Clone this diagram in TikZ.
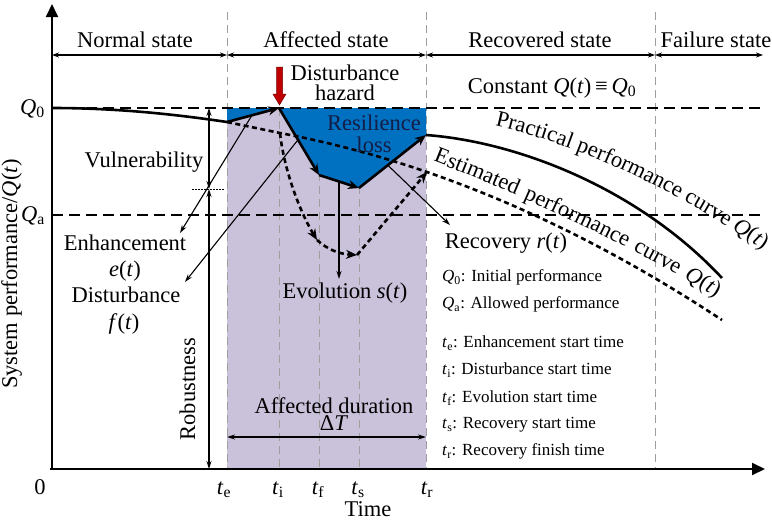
\documentclass[tikz,border=0pt]{standalone}
\usepackage{fontspec}
\setmainfont{Liberation Serif}
\usetikzlibrary{arrows.meta,decorations.text,calc}
\definecolor{purp}{RGB}{202,193,218}
\definecolor{lossblue}{RGB}{0,112,192}
\definecolor{hazred}{RGB}{192,0,0}
\definecolor{navytxt}{RGB}{20,30,70}
\newcommand\bigfnt{\fontsize{22.5}{22.5}\selectfont}
\newcommand\smfnt{\fontsize{17}{17}\selectfont}
\begin{document}
\begin{tikzpicture}[x=1pt,y=-1pt,
  txt/.style={inner sep=0pt, font=\bigfnt, anchor=base},
  leg/.style={inner sep=0pt, anchor=base west, font=\smfnt},
  axisline/.style={line width=2pt, -{Triangle[length=13pt,width=12pt]}},
  hdr/.style={line width=1.1pt, {Stealth[length=7pt,width=5pt]}-{Stealth[length=7pt,width=5pt]}},
  ann/.style={line width=1.1pt, -{Stealth[length=8pt,width=5pt]}},
  annboth/.style={line width=1.1pt, {Stealth[length=8pt,width=5pt]}-{Stealth[length=8pt,width=5pt]}},
  prac/.style={line width=2.6pt},
  pracarr/.style={prac, -{Stealth[length=11pt,width=9pt]}},
  est/.style={line width=2.6pt, dash pattern=on 5pt off 3.5pt},
  estarr/.style={est, -{Stealth[length=11pt,width=9pt]}},
  gdash/.style={black!38, line width=1pt, dash pattern=on 8pt off 5pt},
  kdash/.style={black, line width=1.3pt, dash pattern=on 11pt off 6pt},
]
\useasboundingbox (0,0) rectangle (772,520);

% key coordinates
\coordinate (O) at (52,469);
\coordinate (Ytip) at (52,4);
\coordinate (Xtip) at (765,469);
\coordinate (P0) at (52,108);
\coordinate (Pe) at (227,122);
\coordinate (Pi) at (279,108);
\coordinate (Pf) at (319,175);
\coordinate (Ps) at (359,188);
\coordinate (Pr) at (426,135);
\coordinate (Pend) at (722,278);
\coordinate (Ea) at (280,133);
\coordinate (Ef) at (317,240);
\coordinate (Es) at (357,255);
\coordinate (Er) at (427,172);
\coordinate (Eend) at (722,320);

% affected region
\fill[purp] (227,108) rectangle (426,469);

% gray vertical dashed lines
\draw[gdash] (227,12) -- (227,469);
\draw[gdash] (426,12) -- (426,469);
\draw[gdash] (655,12) -- (655,469);
\draw[gdash] (279,108) -- (279,469);
\draw[gdash] (319,108) -- (319,469);
\draw[gdash] (359,108) -- (359,469);

% resilience loss
\fill[lossblue] (227,108) -- (Pe) -- (Pi) -- (Pf) -- (Ps) -- (Pr) -- (426,108) -- cycle;

% Q0 and Qa lines
\draw[kdash] (P0) -- (762,108);
\draw[kdash] (52,215) -- (760,215);

% axes
\draw[axisline] (O) -- (Ytip);
\draw[axisline] (50,469) -- (Xtip);

% header arrows
\coordinate (H0) at (52,55);
\coordinate (H1) at (227,55);
\coordinate (H2) at (426,55);
\coordinate (H3) at (655,55);
\coordinate (H4) at (763,55);
\draw[hdr] (H0) -- (H1);
\draw[hdr] (H1) -- (H2);
\draw[hdr] (H2) -- (H3);
\draw[hdr] (H3) -- (H4);
\node[txt] (nNormal) at (135,47) {Normal state};
\node[txt] (nAff) at (326,47) {Affected state};
\node[txt] (nRec) at (540,47) {Recovered state};
\node[txt] (nFail) at (716,47) {Failure state};

% estimated performance curve
\draw[est] (Pe) -- (Ea) .. controls (427,160.5) and (575,223) .. (Eend);
\draw[estarr] (Ea) .. controls (284,170) and (300,212) .. (Ef);
\draw[estarr] (Ef) .. controls (328,250) and (340,254) .. (Es);
\draw[estarr] (Es) -- (Er);

% practical performance curve
\draw[prac] (P0) .. controls (120,108) and (180,115) .. (Pe);
\draw[pracarr] (Pe) -- (Pi);
\draw[pracarr] (Pi) -- (Pf);
\draw[pracarr] (Pf) -- (Ps);
\draw[pracarr] (Ps) -- (Pr);
\draw[prac] (Pr) .. controls (520,142) and (640,190) .. (Pend);

% disturbance hazard arrow
\fill[hazred, draw=black!40!hazred, line width=0.5pt]
  (276.5,67) -- (282.5,67) -- (282.5,94) -- (286,94) -- (279.5,105) -- (273,94) -- (276.5,94) -- cycle;
\node[txt] (nDist1) at (345,80) {Disturbance};
\node[txt] (nDist2) at (345,100) {hazard};

% resilience loss text
\node[txt, text=navytxt] (nRes1) at (374,130) {Resilience};
\node[txt, text=navytxt] (nRes2) at (374,152) {loss};

% constant label
\node[txt] (nConst) at (552,93) {Constant \textit{Q}(\textit{t})\,≡\,\textit{Q}\textsubscript{0}};

% curve labels
\path[decorate, decoration={text along path,
  text={|\bigfnt|Practical performance curve |\bigfnt\itshape|Q|\bigfnt\upshape|(|\bigfnt\itshape|t|\bigfnt\upshape|)}}]
  (495,126) .. controls (585,146) and (690,196) .. (795,272);
\path[decorate, decoration={text along path, text align={fit to path stretching spaces},
  text={|\bigfnt|Estimated performance curve |\bigfnt\itshape|Q|\bigfnt\upshape|(|\bigfnt\itshape|t|\bigfnt\upshape|)}}]
  (433,161) .. controls (520,195) and (620,240) .. (716,297);

% vulnerability / robustness
\coordinate (Vtop) at (209,108);
\coordinate (Vmid) at (209,189);
\coordinate (Vbot) at (209,469);
\coordinate (Dl) at (192,189);
\coordinate (Dr) at (225,189);
\draw[annboth] (Vtop) -- (Vmid);
\draw[annboth] (Vmid) -- (Vbot);
\draw[black, line width=0.9pt, dash pattern=on 1.5pt off 1.5pt] (Dl) -- (Dr);
\node[txt] (nVul) at (144,167) {Vulnerability};
\node[txt, rotate=90] (nRob) at (195,389) {Robustness};

% enhancement and disturbance annotations
\node[txt] (nEnh1) at (125,250) {Enhancement};
\node[txt] (nEnh2) at (125,276) {\textit{e}(\textit{t})};
\node[txt] (nDis1) at (126,302) {Disturbance};
\node[txt] (nDis2) at (124,329) {\textit{f}(\textit{t})};
\coordinate (EnhS) at ($(Pe)!0.48!(Pi)$);
\coordinate (EnhT) at (180,233);
\coordinate (DisS) at ($(Pi)!0.475!(Pf)$);
\coordinate (DisT) at (185,282);
\draw[ann] (EnhS) -- (EnhT);
\draw[ann] (DisS) -- (DisT);

% evolution and recovery
\coordinate (EvoS) at ($(Pf)!0.5!(Ps)$);
\coordinate (EvoT) at (339,279);
\draw[ann] (EvoS) -- (EvoT);
\node[txt] (nEvo) at (345,298) {Evolution \textit{s}(\textit{t})};
\coordinate (RecS) at ($(Ps)!0.43!(Pr)$);
\coordinate (RecT) at (450,225);
\draw[ann] (RecS) -- (RecT);
\node[txt] (nRecov) at (506,248) {Recovery \textit{r}(\textit{t})};

% affected duration
\coordinate (DTl) at (227,437);
\coordinate (DTr) at (426,437);
\draw[annboth] (DTl) -- (DTr);
\node[txt] (nDur1) at (334,413) {Affected duration};
\node[txt] (nDur2) at (334,430) {Δ\textit{T}};

% legend
\node[leg] (l1) at (442,281.5) {\textit{Q}\textsubscript{0}: Initial performance};
\node[leg] (l2) at (442,308.5) {\textit{Q}\textsubscript{a}: Allowed performance};
\node[leg] (l3) at (442,347.5) {\textit{t}\textsubscript{e}: Enhancement start time};
\node[leg] (l4) at (442,374.5) {\textit{t}\textsubscript{i}: Disturbance start time};
\node[leg] (l5) at (442,402.5) {\textit{t}\textsubscript{f}: Evolution start time};
\node[leg] (l6) at (442,428.5) {\textit{t}\textsubscript{s}: Recovery start time};
\node[leg] (l7) at (442,455.5) {\textit{t}\textsubscript{r}: Recovery finish time};

% axis labels
\node[txt, anchor=base east] (nQ0) at (45,114) {\textit{Q}\textsubscript{0}};
\node[txt, anchor=base east] (nQa) at (45,221) {\textit{Q}\textsubscript{a}};
\node[txt] (nZero) at (40,494) {0};
\node[txt] (nte) at (224,494) {\textit{t}\textsubscript{e}};
\node[txt] (nti) at (278,494) {\textit{t}\textsubscript{i}};
\node[txt] (ntf) at (318,494) {\textit{t}\textsubscript{f}};
\node[txt] (nts) at (358,494) {\textit{t}\textsubscript{s}};
\node[txt] (ntr) at (427,494) {\textit{t}\textsubscript{r}};
\node[txt] (nTime) at (368,516) {Time};
\node[txt, rotate=90] (nYlab) at (17,274) {System performance/\textit{Q}(\textit{t})};
\end{tikzpicture}
\end{document}
